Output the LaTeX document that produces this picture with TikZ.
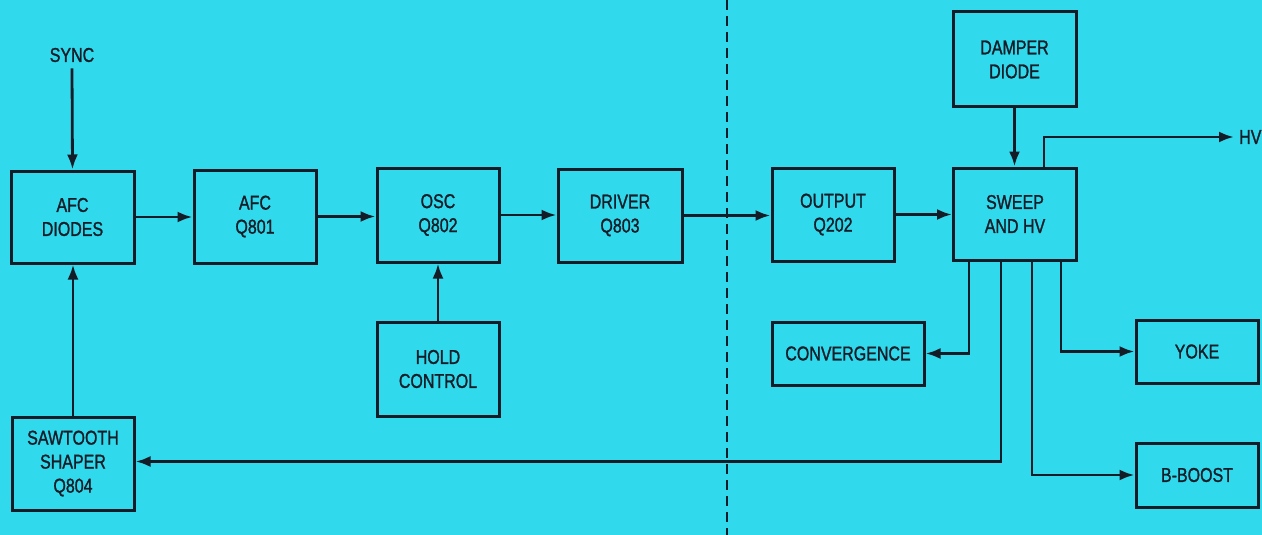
\documentclass[tikz,border=0pt]{standalone}
\usepackage{fontspec}
\setmainfont{Liberation Sans}[FakeStretch=0.8,FakeBold=1.2]
\usetikzlibrary{arrows.meta}
\definecolor{bgcyan}{RGB}{48,218,236}
\definecolor{ink}{RGB}{20,28,40}
\begin{document}
\begin{tikzpicture}[x=1pt,y=-1pt,
  blk/.style={draw=ink,line width=3pt,align=center,inner sep=0pt,
    font=\fontsize{20}{24}\selectfont,text=ink},
  lbl/.style={inner sep=0pt,font=\fontsize{20}{24}\selectfont,text=ink},
  conn/.style={draw=ink,line width=2.8pt,-{Latex[length=15pt,width=11pt]}},
  ]
\fill[bgcyan] (0,0) rectangle (1262,535);
\useasboundingbox (0,0) rectangle (1262,535);
\node[blk,minimum width=123pt,minimum height=92pt] (afcd) at (72.5,217) {AFC\\DIODES};
\node[blk,minimum width=122pt,minimum height=93pt] (afc) at (255,216.5) {AFC\\Q801};
\node[blk,minimum width=122pt,minimum height=94pt] (osc) at (438,215) {OSC\\Q802};
\node[blk,minimum width=124pt,minimum height=93pt] (drv) at (620,215.5) {DRIVER\\Q803};
\node[blk,minimum width=122pt,minimum height=93pt] (out) at (833,214.5) {OUTPUT\\Q202};
\node[blk,minimum width=123pt,minimum height=92pt] (swp) at (1015,214) {SWEEP\\AND HV};
\node[blk,minimum width=123pt,minimum height=95pt] (dmp) at (1014.5,59.5) {DAMPER\\DIODE};
\node[blk,minimum width=122pt,minimum height=94pt] (hold) at (438,369) {HOLD\\CONTROL};
\node[blk,minimum width=152pt,minimum height=63pt] (conv) at (848,353.5) {CONVERGENCE};
\node[blk,minimum width=122pt,minimum height=63pt] (yoke) at (1197,351.5) {YOKE};
\node[blk,minimum width=122pt,minimum height=64pt] (bb) at (1197,475) {B-BOOST};
\node[blk,minimum width=122pt,minimum height=93pt] (saw) at (73,463.5) {SAWTOOTH\\SHAPER\\Q804};
\node[lbl] (sync) at (72,55) {SYNC};
\node[lbl,anchor=west] (hv) at (1239,137) {HV};
\draw[conn] ([yshift=-6pt]sync.south) -- (afcd.north);
\draw[conn] (afcd.east) -- (afcd.east -| afc.west);
\draw[conn] (afc.east) -- (afc.east -| osc.west);
\draw[conn] (osc.east) -- (osc.east -| drv.west);
\draw[conn] (drv.east) -- (drv.east -| out.west);
\draw[conn] (out.east) -- (out.east -| swp.west);
\draw[conn] (hold.north) -- (hold.north |- osc.south);
\draw[conn] (dmp.south) -- (dmp.south |- swp.north);
\draw[conn] ([xshift=29pt]swp.north) |- ([xshift=-5pt]hv.west);
\draw[conn] ([xshift=-46pt]swp.south) |- (conv.east);
\draw[conn] ([xshift=46pt]swp.south) |- (yoke.west);
\draw[conn] ([xshift=17pt]swp.south) |- (bb.west);
\draw[conn] ([xshift=-14pt]swp.south) |- ([yshift=2pt]saw.east);
\draw[conn] (saw.north) -- (saw.north |- afcd.south);
\draw[draw=ink,line width=1.6pt,dash pattern=on 10pt off 6pt] (727,0) -- (727,535);
\end{tikzpicture}
\end{document}
